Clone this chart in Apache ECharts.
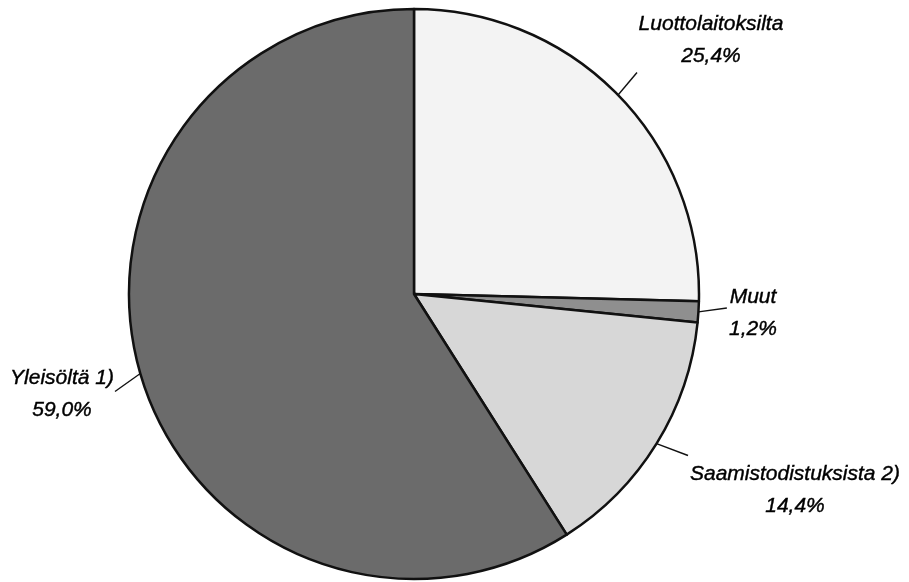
<!DOCTYPE html>
<html>
<head>
<meta charset="utf-8">
<script src="https://cdn.jsdelivr.net/npm/echarts@6/dist/echarts.min.js"></script>
<style>
  html, body { margin: 0; padding: 0; background: #fff; }
  #chart { width: 909px; height: 582px; }
</style>
</head>
<body>
<div id="chart"></div>
<script>
// shares of funding, per cent, clockwise from 12 o'clock
const categories = ['Luottolaitoksilta', 'Muut', 'Saamistodistuksista 2)', 'Yleisöltä 1)']
const shares = [25.4, 1.2, 14.4, 59.0]

const sliceColors = ['#f3f3f3', '#8f8f8f', '#d7d7d7', '#6b6b6b']
// label centres in px, same order as categories
const labelPos = [
  [711, 40],
  [753, 313],
  [795, 490],
  [62, 394],
]
// where the leader lines stop, px
const leaderEnd = [
  [637, 72],
  [727, 308],
  [688, 456],
  [115, 392],
]

const chart = echarts.init(document.getElementById('chart'))

const fmt = (v) => v.toFixed(1).replace('.', ',') + '%'
const pieData = categories.map((name, i) => ({
  name,
  value: shares[i],
  itemStyle: { color: sliceColors[i] },
}))
const base = {
  type: 'pie',
  center: [414, 294],
  radius: 285,
  startAngle: 90,
  clockwise: true,
  avoidLabelOverlap: false,
  silent: true,
}

chart.setOption({
  animation: false,
  series: [
    {
      ...base,
      itemStyle: {
        borderColor: '#111',
        borderWidth: 2.5,
      },
      label: {
        show: true,
        position: 'outside',
        formatter: (p) => p.name + '\n' + fmt(p.value),
        fontFamily: 'Liberation Sans, Arial, sans-serif',
        fontStyle: 'italic',
        fontSize: 21,
        lineHeight: 32,
        color: '#000',
        textBorderColor: '#000',
        textBorderWidth: 0.4,
        align: 'center',
      },
      labelLine: { show: false },
      labelLayout: (params) => {
        const p = labelPos[params.dataIndex]
        return { x: p[0], y: p[1], align: 'center', verticalAlign: 'middle' }
      },
      data: pieData,
    },
    {
      // invisible copy, only for the leader lines
      ...base,
      itemStyle: { color: 'rgba(0,0,0,0)', borderWidth: 0 },
      label: {
        show: true,
        position: 'outside',
        formatter: ' ',
        fontSize: 1,
      },
      labelLine: {
        show: true,
        length: 10,
        length2: 0,
        lineStyle: { color: '#111', width: 1.4 },
      },
      labelLayout: (params) => {
        const p = leaderEnd[params.dataIndex]
        return { x: p[0], y: p[1], align: 'center', verticalAlign: 'middle' }
      },
      data: pieData.map((d) => ({ name: d.name, value: d.value })),
    },
  ],
})
</script>
</body>
</html>
